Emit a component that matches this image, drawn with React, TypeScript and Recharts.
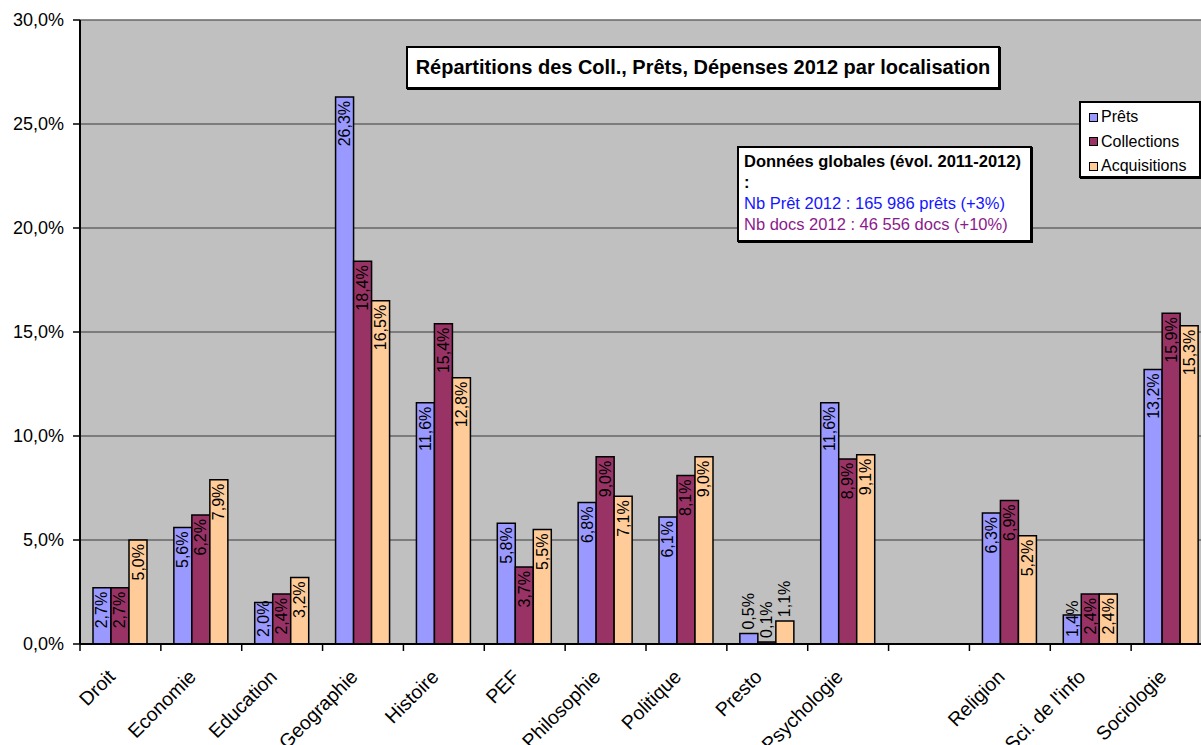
import React from 'react';
import { BarChart, Bar, XAxis, YAxis, CartesianGrid, Legend } from 'recharts';

const categories = ['Droit', 'Economie', 'Education', 'Geographie', 'Histoire', 'PEF', 'Philosophie', 'Politique', 'Presto', 'Psychologie', '', 'Religion', "Sci. de l'info", 'Sociologie'];
const prets = [2.7, 5.6, 2.0, 26.3, 11.6, 5.8, 6.8, 6.1, 0.5, 11.6, null, 6.3, 1.4, 13.2];
const collections = [2.7, 6.2, 2.4, 18.4, 15.4, 3.7, 9.0, 8.1, 0.1, 8.9, null, 6.9, 2.4, 15.9];
const acquisitions = [5.0, 7.9, 3.2, 16.5, 12.8, 5.5, 7.1, 9.0, 1.1, 9.1, null, 5.2, 2.4, 15.3];
const yTicks = [0, 5, 10, 15, 20, 25, 30];

const seriesNames = ['Prêts', 'Collections', 'Acquisitions'];
const seriesColors = ['#9999FF', '#993366', '#FFCC99'];

const titleText = 'Répartitions des Coll., Prêts, Dépenses 2012 par localisation';
const noteTitle = 'Données globales (évol. 2011-2012)';
const noteColon = ':';
const noteLine1 = 'Nb Prêt 2012 : 165 986 prêts (+3%)';
const noteLine2 = 'Nb docs 2012 : 46 556 docs (+10%)';

const data = categories.map((c, i) => ({
  name: c,
  prets: prets[i],
  collections: collections[i],
  acquisitions: acquisitions[i],
}));

const FONT = '"Liberation Sans", Arial, sans-serif';
const fmt = (v: number) => v.toFixed(1).replace('.', ',') + '%';

const CHART_W = 1240;
const CHART_H = 745;
const PLOT_LEFT = 80;
const PLOT_RIGHT = 1212;
const HALF_BAND = (PLOT_RIGHT - PLOT_LEFT) / categories.length / 2;

const estWidth = (s: string, fs: number) => {
  let w = 0;
  for (const ch of s) {
    if (ch === ',' || ch === '.') w += 0.278;
    else if (ch === '%') w += 0.889;
    else w += 0.556;
  }
  return w * fs;
};

const renderLabel = (props: any) => {
  const { x, y, width, height, value } = props;
  if (value == null) return null;
  const text = fmt(Number(value));
  const fs = 16;
  const L = estWidth(text, fs);
  const cx = Number(x) + Number(width) / 2;
  const top = Number(y);
  const bottom = top + Number(height);
  const tx = cx + 5.5;
  let ty: number;
  let anchor: 'start' | 'end';
  if (Number(height) < 26) {
    ty = top - 4;
    anchor = 'start';
  } else if (top + 4 + L > bottom - 7) {
    ty = bottom - 7;
    anchor = 'start';
  } else {
    ty = top + 4;
    anchor = 'end';
  }
  return (
    <text
      x={tx}
      y={ty}
      transform={`rotate(-90 ${tx} ${ty})`}
      textAnchor={anchor}
      fontSize={fs}
      fontFamily={FONT}
      fill="#000"
    >
      {text}
    </text>
  );
};

const XTick = (props: any) => {
  const { x, y, payload } = props;
  const axisY = y - 8;
  const ax = x - 4;
  const ay = axisY + 34;
  return (
    <g>
      <line x1={x - HALF_BAND} x2={x - HALF_BAND} y1={axisY} y2={axisY + 7} stroke="#000" strokeWidth={1.5} />
      <text
        x={ax}
        y={ay}
        transform={`rotate(-45 ${ax} ${ay})`}
        textAnchor="end"
        fontSize={19.5}
        fontFamily={FONT}
        fill="#000"
      >
        {payload.value}
      </text>
    </g>
  );
};

const LegendContent = () => (
  <div
    style={{
      width: 118,
      height: 71,
      background: '#fff',
      border: '2px solid #000',
      boxShadow: '1px 1px 0 #000',
      fontFamily: FONT,
      fontSize: 16,
      color: '#000',
      boxSizing: 'content-box',
      paddingTop: 2,
    }}
  >
    {seriesNames.map((n, i) => (
      <div key={n} style={{ display: 'flex', alignItems: 'center', height: 24.5, paddingLeft: 8 }}>
        <span
          style={{
            display: 'inline-block',
            width: 7,
            height: 7,
            background: seriesColors[i],
            border: '1.5px solid #000',
            marginRight: 3,
          }}
        />
        <span>{n}</span>
      </div>
    ))}
  </div>
);

export default function App() {
  return (
    <div style={{ position: 'absolute', left: 0, top: 0, width: 1201, height: 745, overflow: 'hidden', background: '#fff' }}>
      <BarChart
        width={CHART_W}
        height={CHART_H}
        data={data}
        margin={{ top: 20, right: CHART_W - PLOT_RIGHT, left: 0, bottom: 0 }}
        barGap={0}
        barSize={18}
      >
        <CartesianGrid
          horizontal={true}
          vertical={false}
          stroke="#666"
          strokeWidth={1.3}
          fill="#C0C0C0"
          fillOpacity={1}
        />
        <XAxis
          dataKey="name"
          height={101}
          interval={0}
          tickLine={false}
          tickSize={6}
          tickMargin={2}
          axisLine={{ stroke: '#000', strokeWidth: 2 }}
          tick={<XTick />}
        />
        <YAxis
          width={PLOT_LEFT}
          domain={[0, 30]}
          ticks={yTicks}
          tickFormatter={(v: number) => fmt(v)}
          tickSize={7}
          tickMargin={9}
          axisLine={{ stroke: '#000', strokeWidth: 2 }}
          tickLine={{ stroke: '#000', strokeWidth: 1.5 }}
          tick={{ fontSize: 18, fontFamily: FONT, fill: '#000' }}
        />
        <Legend
          layout="vertical"
          align="center"
          verticalAlign="middle"
          content={<LegendContent />}
          wrapperStyle={{ left: 1079, top: 101, width: 124, height: 79 }}
        />
        <Bar dataKey="prets" name={seriesNames[0]} fill={seriesColors[0]} stroke="#000" strokeWidth={1.5} isAnimationActive={false} label={renderLabel} />
        <Bar dataKey="collections" name={seriesNames[1]} fill={seriesColors[1]} stroke="#000" strokeWidth={1.5} isAnimationActive={false} label={renderLabel} />
        <Bar dataKey="acquisitions" name={seriesNames[2]} fill={seriesColors[2]} stroke="#000" strokeWidth={1.5} isAnimationActive={false} label={renderLabel} />
      </BarChart>
      <div
        style={{
          position: 'absolute',
          left: 406,
          top: 46,
          width: 590,
          height: 39,
          background: '#fff',
          border: '2px solid #000',
          boxShadow: '1px 1px 0 #000',
          fontFamily: FONT,
          fontWeight: 'bold',
          fontSize: 20,
          color: '#000',
          display: 'flex',
          alignItems: 'center',
          justifyContent: 'center',
          whiteSpace: 'nowrap',
        }}
      >
        {titleText}
      </div>
      <div
        style={{
          position: 'absolute',
          left: 737,
          top: 146,
          width: 286,
          height: 89,
          background: '#fff',
          border: '2px solid #000',
          boxShadow: '1px 1px 0 #000',
          fontFamily: FONT,
          fontSize: 16.5,
          lineHeight: '21px',
          padding: '3px 0 0 5px',
          boxSizing: 'content-box',
          whiteSpace: 'nowrap',
        }}
      >
        <div style={{ fontWeight: 'bold', color: '#000' }}>{noteTitle}</div>
        <div style={{ fontWeight: 'bold', color: '#000' }}>{noteColon}</div>
        <div style={{ color: '#1515FF' }}>{noteLine1}</div>
        <div style={{ color: '#8B1A8B' }}>{noteLine2}</div>
      </div>
    </div>
  );
}
